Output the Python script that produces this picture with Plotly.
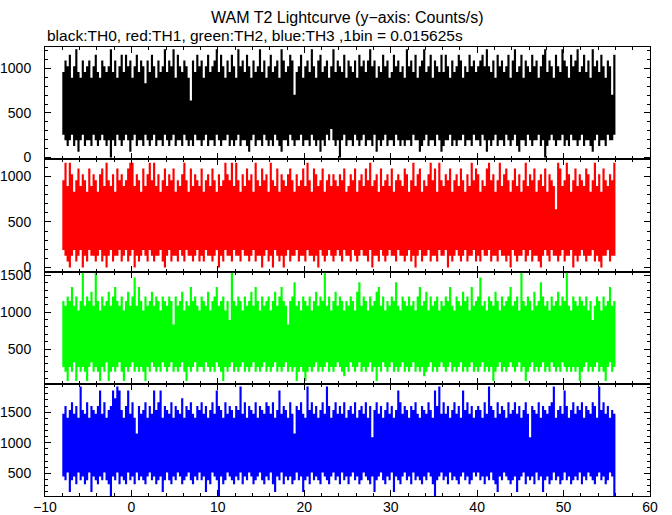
import plotly.graph_objects as go
from plotly.subplots import make_subplots

# Lightcurve envelopes: for every 0.25 s display bin,
# the highest and lowest count in a 0.015625 s bin (1 count = 64 counts/s).
T_START = -8.0
DISPLAY_BIN = 0.25
COUNTS_TO_RATE = 64

th0_max = [
    15,17,16,18,14,16,19,15,14,17,15,16,17,14,16,18,
    15,14,17,16,15,16,19,15,17,14,16,18,15,18,16,17,
    14,16,18,15,17,16,13,17,15,18,16,14,17,15,16,19,
    15,17,16,19,14,18,16,15,17,16,14,10,17,15,18,16,
    17,14,16,18,15,16,17,19,15,18,16,14,17,15,18,16,
    14,19,16,17,15,18,16,14,17,15,16,19,15,17,14,16,
    18,15,16,17,14,19,17,15,16,18,17,11,15,16,18,14,
    16,17,15,19,16,14,17,18,15,16,17,14,16,19,15,17,
    16,15,18,14,17,16,15,17,14,18,16,17,15,17,19,16,
    17,14,16,15,18,16,17,14,15,18,16,17,15,16,14,19,
    16,17,15,18,14,16,17,19,15,16,18,14,17,16,15,18,
    15,18,16,14,17,15,16,18,17,14,16,15,18,16,17,15,
    16,17,18,16,19,16,15,17,14,18,16,17,15,16,18,14,
    17,19,15,16,18,14,17,16,15,18,16,17,14,16,18,19,
    15,17,16,14,18,16,15,19,17,16,14,18,16,17,19,15,
    16,18,15,17,14,19,16,17,15,18,16,14,17,16,11,18,
]
th0_min = [
    4,3,2,3,4,2,3,1,3,4,2,3,3,2,4,3,
    2,3,4,3,2,3,0,3,2,4,3,2,3,4,3,1,
    3,4,2,3,3,2,4,3,2,3,4,2,3,3,2,4,
    3,2,3,4,2,3,3,2,4,3,2,3,2,4,3,3,
    2,3,4,2,3,3,2,4,3,2,3,3,4,2,3,2,
    3,4,2,3,3,2,1,3,4,2,3,3,2,4,3,2,
    3,2,4,3,2,1,3,3,2,4,3,2,3,3,4,2,
    3,3,2,4,3,2,3,1,3,2,4,3,5,3,2,3,
    0,3,4,2,3,3,2,4,3,2,3,4,2,3,3,2,
    4,1,3,2,3,4,2,3,3,2,4,3,2,3,2,3,
    3,2,4,3,3,1,2,3,4,2,3,3,2,4,3,1,
    2,3,3,4,2,3,2,3,3,4,2,3,3,2,4,3,
    3,2,4,3,1,3,2,3,4,2,3,3,2,4,3,2,
    3,4,2,1,3,3,2,4,3,2,3,3,4,2,3,0,
    2,3,4,3,2,3,3,4,2,3,2,4,3,3,2,3,
    4,2,3,3,2,1,3,4,2,3,3,2,4,3,3,4,
]
th1_max = [
    15,18,14,18,16,13,15,17,14,16,15,13,17,14,16,15,
    13,16,17,14,18,15,14,16,13,17,15,16,14,15,17,18,
    18,14,16,15,13,17,14,16,18,15,18,14,16,13,15,17,
    14,16,15,17,13,15,14,16,18,15,13,17,14,16,15,14,
    17,13,15,16,14,17,15,13,16,14,15,18,16,15,18,14,
    18,15,13,16,14,17,15,16,13,18,15,14,17,15,16,13,
    18,15,14,17,13,16,15,14,16,17,15,13,16,14,15,17,
    14,18,15,13,17,16,14,15,17,13,15,16,14,16,15,14,
    16,15,17,13,14,16,15,17,13,15,16,14,17,15,18,14,
    15,16,13,17,14,15,16,14,17,13,15,16,15,14,17,16,
    13,15,18,14,16,17,13,15,14,16,18,15,17,13,18,15,
    14,16,15,17,13,15,16,14,17,15,13,16,14,18,15,17,
    16,13,15,14,17,18,15,16,13,15,18,14,16,17,15,13,
    15,17,14,16,13,15,18,14,16,15,17,13,15,16,14,17,
    13,16,15,14,10,18,17,14,15,18,16,13,15,17,14,16,
    15,14,17,16,13,15,18,14,16,13,17,15,14,16,15,18,
]
th1_min = [
    3,2,1,0,2,3,1,2,3,0,2,1,3,2,2,1,
    2,3,1,2,0,2,3,1,2,2,3,1,2,3,1,2,
    3,0,2,1,2,3,2,1,3,2,1,2,2,3,1,0,
    2,3,1,2,2,1,3,2,1,3,2,2,1,2,3,1,
    2,1,3,2,2,1,2,3,0,2,1,3,2,2,1,3,
    2,2,1,3,2,2,1,2,3,1,2,2,0,2,3,1,
    2,0,3,2,1,2,0,2,3,1,2,2,3,1,2,2,
    1,3,2,2,1,2,0,3,2,1,2,3,2,1,2,3,
    2,1,3,2,2,1,3,2,1,2,3,2,2,1,3,0,
    2,2,1,3,2,1,2,3,2,2,1,3,2,2,1,2,
    3,1,2,0,2,3,1,2,2,3,1,2,2,1,3,2,
    2,3,0,2,1,2,3,2,1,2,3,1,2,2,3,1,
    2,1,3,2,2,3,1,2,2,1,3,2,2,1,2,0,
    3,2,1,2,2,3,1,2,3,1,2,2,1,0,2,3,
    2,1,3,2,2,1,2,3,1,2,2,3,0,2,1,2,
    3,2,1,2,2,3,1,2,1,0,2,2,3,1,2,2,
]
th2_max = [
    18,17,19,18,21,17,19,16,18,24,17,19,18,20,17,24,
    18,16,19,17,18,20,17,19,21,18,17,19,16,18,20,17,
    19,23,17,21,18,16,19,17,18,20,17,19,18,16,19,18,
    17,19,18,13,19,17,18,20,16,18,17,21,18,19,17,16,
    19,18,17,20,16,18,19,21,17,18,19,16,18,14,24,18,
    17,19,18,16,19,17,18,20,17,21,18,16,19,17,18,19,
    16,18,20,17,19,21,18,17,13,18,19,22,17,18,16,19,
    18,17,19,16,18,20,17,19,18,24,17,19,16,18,20,17,
    19,18,16,18,17,19,18,16,20,22,17,19,18,16,19,17,
    18,20,21,17,19,16,18,17,19,18,22,17,16,19,18,17,
    19,17,18,16,19,21,17,18,20,16,19,17,18,19,16,18,
    17,19,18,21,17,16,19,18,17,20,18,19,16,21,17,18,
    19,23,17,18,16,19,18,17,20,18,16,19,17,18,19,21,
    17,18,19,16,24,18,17,19,18,16,20,17,18,22,19,17,
    18,16,19,17,18,20,17,19,18,24,17,16,19,18,17,19,
    18,17,19,16,18,14,17,19,18,16,19,17,18,21,17,18,
]
th2_min = [
    4,3,1,4,3,5,1,4,3,4,3,1,4,5,3,4,
    3,1,4,3,5,1,3,4,3,4,5,3,1,4,3,4,
    5,3,4,3,4,3,1,4,3,5,4,3,4,3,5,4,
    3,4,5,3,4,3,4,5,3,1,4,3,4,5,3,4,
    4,3,5,4,3,4,3,5,4,3,1,4,3,4,5,3,
    4,3,4,5,3,4,3,4,5,3,4,3,4,5,3,4,
    3,4,5,3,4,3,4,5,3,4,3,4,1,3,4,3,
    1,3,4,3,4,5,3,4,3,4,5,3,4,3,4,5,
    4,3,2,4,3,5,4,3,4,5,3,4,3,4,5,3,
    4,1,4,3,5,4,3,4,5,3,4,3,4,5,3,4,
    3,4,5,3,4,3,4,2,3,4,5,3,4,3,4,5,
    4,3,4,5,3,4,3,4,5,3,4,3,4,5,3,4,
    3,4,5,3,4,3,4,1,3,4,5,3,4,3,4,5,
    4,3,4,5,3,4,1,3,4,5,3,4,3,4,5,3,
    4,3,5,4,3,4,3,5,4,3,4,3,4,3,4,1,
    3,4,5,3,4,3,4,5,3,4,3,1,4,5,3,4,
]
th3_max = [
    23,25,22,24,26,23,25,22,30,24,23,26,22,25,24,23,
    25,29,23,26,22,24,25,29,27,30,29,24,22,25,29,23,
    26,22,18,25,23,24,26,22,25,23,29,24,26,29,22,25,
    24,23,26,22,25,24,23,27,22,25,24,26,23,22,25,24,
    26,23,25,22,24,26,23,29,25,24,22,26,23,25,24,22,
    25,24,30,23,26,22,25,24,23,26,22,25,24,23,26,25,
    23,26,22,24,29,23,25,24,22,26,23,18,25,24,26,23,
    22,30,24,26,23,25,22,24,26,23,30,25,22,24,26,23,
    25,23,26,22,24,25,23,26,22,24,25,23,26,22,25,17,
    24,26,23,25,22,24,26,23,25,22,24,29,26,23,25,24,
    22,25,24,26,23,22,25,24,23,26,24,22,29,25,30,23,
    26,23,25,22,24,26,23,25,22,29,24,26,23,25,22,24,
    25,24,22,26,23,30,25,24,22,26,23,25,24,22,26,23,
    24,26,23,25,22,24,26,23,17,25,24,23,26,22,25,24,
    23,25,26,30,22,24,25,23,29,25,22,24,26,23,25,24,
    26,22,25,24,23,26,25,22,30,24,26,23,25,22,24,23,
]
th3_min = [
    7,6,8,3,6,7,5,8,6,7,5,6,8,3,7,6,
    5,7,6,8,6,5,2,7,6,8,5,7,6,5,8,6,
    7,5,8,6,7,6,5,7,8,6,7,5,6,7,3,6,
    8,6,5,7,6,8,7,5,6,7,8,6,5,7,6,8,
    6,7,3,6,5,8,7,6,2,7,5,6,8,7,6,5,
    7,6,8,5,7,6,8,7,5,6,7,8,6,5,7,6,
    8,5,3,7,6,8,5,7,6,7,5,6,8,6,7,3,
    6,7,5,8,6,7,6,5,8,7,6,5,7,8,6,7,
    5,8,6,7,5,7,8,6,7,5,6,8,7,6,5,7,
    3,6,7,8,6,5,7,6,8,3,7,6,5,7,8,6,
    7,5,8,6,7,6,5,7,6,8,7,5,2,6,7,8,
    6,7,5,8,6,7,6,5,7,8,6,7,5,6,8,7,
    8,6,7,5,7,6,8,6,5,3,7,6,8,7,6,5,
    6,7,3,6,7,8,5,7,6,7,5,8,6,7,3,6,
    7,5,6,8,6,7,5,6,8,6,7,5,6,7,6,8,
    5,7,6,8,7,6,5,7,8,6,7,5,6,8,7,2,
]

series = [
    ("TH0", th0_max, th0_min, "#000000", [-20, 1240], [0, 500, 1000]),
    ("TH1", th1_max, th1_min, "#ff0000", [-45, 1190], [0, 500, 1000]),
    ("TH2", th2_max, th2_min, "#00ff00", [27, 1555], [500, 1000, 1500]),
    ("TH3", th3_max, th3_min, "#0000ff", [128, 1965], [500, 1000, 1500]),
]
x_ticks = [-10, 0, 10, 20, 30, 40, 50, 60]

FONT = "Liberation Sans, Arial, Helvetica, sans-serif"

fig = make_subplots(rows=4, cols=1, shared_xaxes=True, vertical_spacing=0)

for row, (name, hi, lo, color, yr, yt) in enumerate(series, start=1):
    xs, ys = [], []
    for i, v in enumerate(hi):
        a = T_START + i * DISPLAY_BIN
        xs += [a, a + DISPLAY_BIN]
        ys += [v * COUNTS_TO_RATE, v * COUNTS_TO_RATE]
    for i in range(len(lo) - 1, -1, -1):
        a = T_START + i * DISPLAY_BIN
        xs += [a + DISPLAY_BIN, a]
        ys += [lo[i] * COUNTS_TO_RATE, lo[i] * COUNTS_TO_RATE]
    fig.add_trace(
        go.Scatter(x=xs, y=ys, mode="lines", fill="toself", fillcolor=color,
                   line=dict(width=0, color=color), name=name, hoverinfo="skip",
                   showlegend=False),
        row=row, col=1,
    )
    fig.update_yaxes(
        range=yr, tickvals=yt, ticktext=[str(v) for v in yt],
        ticks="inside", ticklen=6, tickcolor="black", showline=True, linecolor="black",
        linewidth=1, mirror="ticks", showgrid=False, zeroline=False, automargin=False,
        minor=dict(ticks="inside", dtick=100, tick0=0, ticklen=3, tickcolor="black", showgrid=False),
        tickfont=dict(family=FONT, size=14, color="black"), ticklabelstandoff=10,
        row=row, col=1,
    )
    fig.update_xaxes(
        range=[-10, 60], tickvals=x_ticks, ticktext=[("\u221210" if v < 0 else str(v)) for v in x_ticks],
        ticks="inside", ticklen=6, tickcolor="black", showline=True, linecolor="black",
        linewidth=1, mirror="ticks", showgrid=False, zeroline=False, automargin=False,
        minor=dict(ticks="inside", dtick=2, tick0=0, ticklen=3, tickcolor="black", showgrid=False),
        tickfont=dict(family=FONT, size=14, color="black"), ticklabelstandoff=-2,
        showticklabels=(row == 4),
        row=row, col=1,
    )

H_PLOT = 515 - 47 - 19
fig.add_annotation(text="WAM T2 Lightcurve (y\u2212axis: Counts/s)", xref="paper", yref="paper",
                   x=0.5, y=1 + 30 / H_PLOT, xanchor="center", yanchor="middle", showarrow=False,
                   font=dict(family=FONT, size=16, color="black"))
fig.add_annotation(text="black:TH0, red:TH1, green:TH2, blue:TH3 ,1bin = 0.015625s", xref="paper", yref="paper",
                   x=0, y=1 + 12 / H_PLOT, xanchor="left", yanchor="middle", showarrow=False,
                   font=dict(family=FONT, size=15.5, color="black"))

fig.update_layout(
    width=672, height=515, margin=dict(l=45, r=22, t=47, b=19, autoexpand=False),
    paper_bgcolor="white", plot_bgcolor="white", showlegend=False,
    font=dict(family=FONT, size=14, color="black"),
)

fig.write_html(
    "out.html",
    config={"displayModeBar": False},
    post_script="document.body.style.margin='0';document.body.style.overflow='hidden';",
)
